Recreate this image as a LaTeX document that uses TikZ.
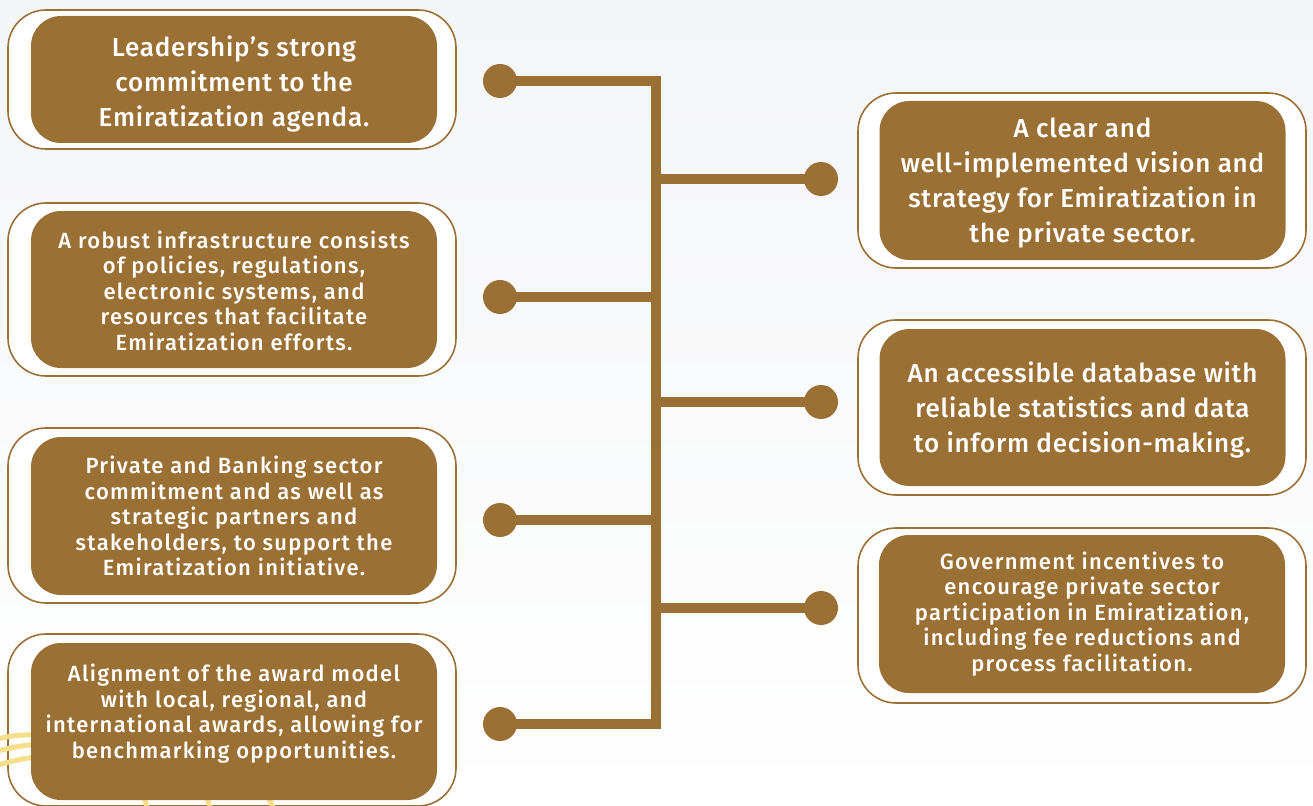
\documentclass[tikz,border=0pt]{standalone}
\usepackage{fontspec}
\setmainfont{Fira Sans}[UprightFont={* Medium}]
\usepackage{xcolor}
\usetikzlibrary{positioning}

\definecolor{brw}{HTML}{9A7034}
\definecolor{ylw}{HTML}{F6DF8A}
\definecolor{bgtop}{HTML}{F4F5F7}

\begin{document}
\begin{tikzpicture}[x=1pt,y=-1pt,
  frame/.style={draw=brw,line width=1.6pt,fill=white,rounded corners=38pt,
    inner sep=0pt,minimum width=448pt},
  card/.style={fill=brw,rounded corners=30pt,inner sep=0pt,minimum width=406pt},
  txt/.style={text=white,align=center,inner sep=0pt},
  big/.style={font=\fontsize{26}{35}\selectfont\addfontfeatures{LetterSpace=3}},
  small/.style={font=\fontsize{22}{25.5}\selectfont\addfontfeatures{LetterSpace=6}},
  dot/.style={circle,fill=brw,minimum size=34pt,inner sep=0pt},
  link/.style={draw=brw,line width=10pt}]
  \useasboundingbox (0,0) rectangle (1313,805);
  \clip (0,0) rectangle (1313,805);
  \shade[top color=bgtop,bottom color=white] (0,0) rectangle (1313,805);

  % outer frames
  \node[frame,minimum height=139pt] (fL1) at (232,79.5) {};
  \node[frame,minimum height=173pt] (fL2) at (232,289.5) {};
  \node[frame,minimum height=175pt] (fL3) at (232,515.5) {};
  \node[frame,minimum height=172pt] (fL4) at (232,720) {};
  \node[frame,minimum height=175pt] (fR1) at (1082,180.5) {};
  \node[frame,minimum height=175pt] (fR2) at (1082,407.5) {};
  \node[frame,minimum height=175pt] (fR3) at (1082,615.5) {};

  % yellow rays, bottom left
  \begin{scope}[ylw,line width=5pt]
    \draw (-2,739) .. controls (60,722) and (140,760) .. (148,812);
    \draw (-2,751) .. controls (80,728) and (205,760) .. (211,812);
    \draw (-2,765) .. controls (100,735) and (268,760) .. (274,812);
  \end{scope}

  % cards
  \node[card,minimum height=127pt] (cL1) at (234,79.5) {};
  \node[card,minimum height=157pt] (cL2) at (234,289.5) {};
  \node[card,minimum height=158pt] (cL3) at (234,516) {};
  \node[card,minimum height=157pt] (cL4) at (234,721.5) {};
  \node[card,minimum height=159pt] (cR1) at (1082.5,180.5) {};
  \node[card,minimum height=157pt] (cR2) at (1082.5,407.5) {};
  \node[card,minimum height=158pt] (cR3) at (1082,614) {};

  % texts
  \node[txt,big,yshift=-4pt] (tL1) at (cL1)
    {Leadership’s strong\\commitment to the\\Emiratization agenda.};
  \node[txt,small,yshift=-1pt] (tL2) at (cL2)
    {A robust infrastructure consists\\of policies, regulations,\\electronic systems, and\\resources that facilitate\\Emiratization efforts.};
  \node[txt,small] (tL3) at (cL3)
    {Private and Banking sector\\commitment and as well as\\strategic partners and\\stakeholders, to support the\\Emiratization initiative.};
  \node[txt,small,yshift=8pt] (tL4) at (cL4)
    {Alignment of the award model\\with local, regional, and\\international awards, allowing for\\benchmarking opportunities.};
  \node[txt,big,yshift=-3pt] (tR1) at (cR1)
    {A clear and\\well-implemented vision and\\strategy for Emiratization in\\the private sector.};
  \node[txt,big,yshift=-2pt] (tR2) at (cR2)
    {An accessible database with\\reliable statistics and data\\to inform decision-making.};
  \node[txt,small] (tR3) at (cR3)
    {Government incentives to\\encourage private sector\\participation in Emiratization,\\including fee reductions and\\process facilitation.};

  % dots
  \node[dot] (dL1) at (500,81) {};
  \node[dot] (dL2) at (500,297) {};
  \node[dot] (dL3) at (500,520) {};
  \node[dot] (dL4) at (500,724) {};
  \node[dot] (dR1) at (821,179) {};
  \node[dot] (dR2) at (821,402) {};
  \node[dot] (dR3) at (821,608) {};

  % spine and branches
  \coordinate (spT) at (656,81);
  \coordinate (spB) at (656,724);
  \draw[link] (dL1.center) -- (spT) -- (spB) -- (dL4.center);
  \draw[link] (dL2.center) -- (dL2 -| spT);
  \draw[link] (dL3.center) -- (dL3 -| spT);
  \draw[link] (dR1 -| spT) -- (dR1.center);
  \draw[link] (dR2 -| spT) -- (dR2.center);
  \draw[link] (dR3 -| spT) -- (dR3.center);
\end{tikzpicture}
\end{document}
